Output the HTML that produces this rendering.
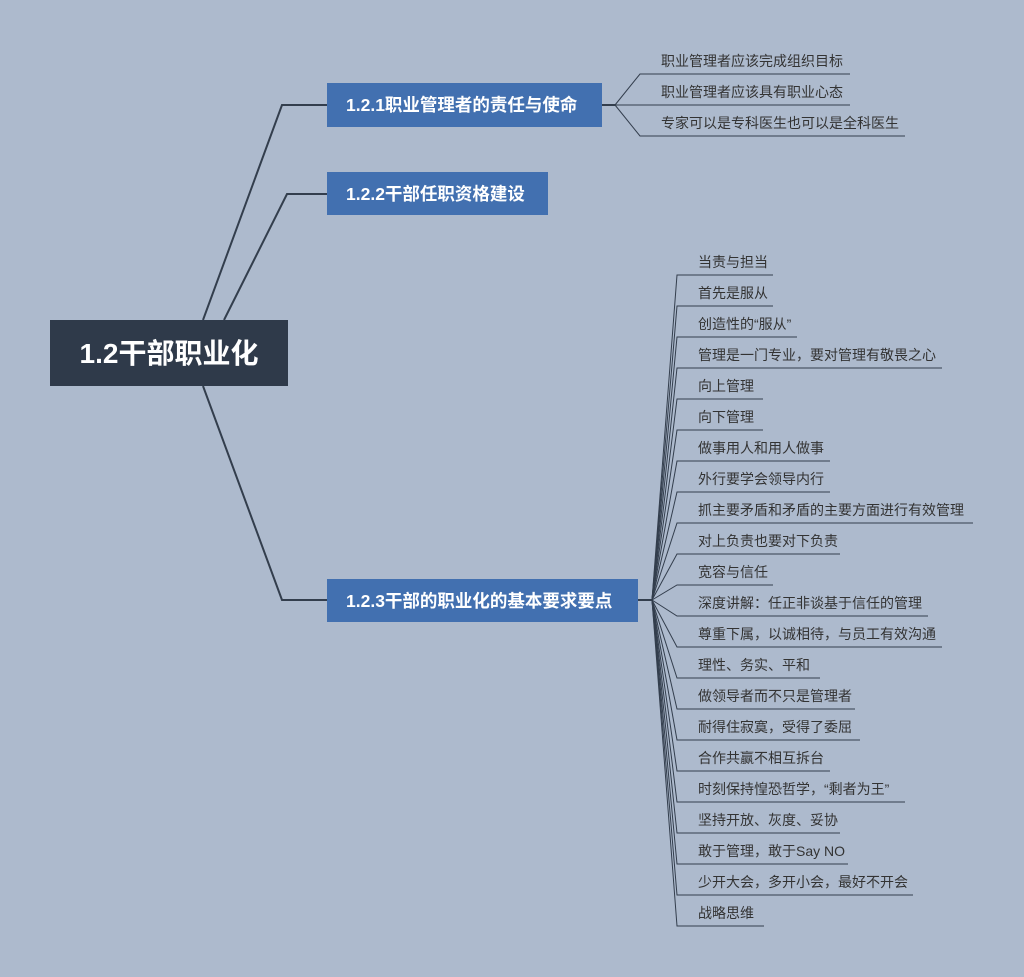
<!DOCTYPE html>
<html><head><meta charset="utf-8"><style>
html,body{margin:0;padding:0;background:#adbacd;}
svg{display:block}
text{font-family:"Liberation Sans","Noto Sans CJK SC",sans-serif;}
</style></head><body>
<svg width="1024" height="977" viewBox="0 0 1024 977" xmlns="http://www.w3.org/2000/svg">
<rect width="1024" height="977" fill="#adbacd"/>
<g stroke="#333e4d" stroke-width="2" fill="none">
<polyline points="203,320 282,105 327,105"/>
<polyline points="224,320 287,194 327,194"/>
<polyline points="203,386 282,600 327,600"/>
<line x1="638" y1="600" x2="652" y2="600"/>
<line x1="602" y1="105" x2="615" y2="105"/>
</g>
<g stroke="#333e4d" stroke-width="1" fill="none">
<path d="M615,105 L640,74 L850,74"/>
<path d="M615,105 L850,105"/>
<path d="M615,105 L640,136 L905,136"/>
</g>
<rect x="50" y="320" width="238" height="66" fill="#2f3a4a"/>
<text x="169" y="363" fill="#fff" font-size="28" font-weight="bold" text-anchor="middle">1.2干部职业化</text>
<rect x="327" y="83" width="275" height="44" fill="#4270b0"/>
<text x="346" y="111" fill="#fff" font-size="17.5" font-weight="bold">1.2.1职业管理者的责任与使命</text>
<rect x="327" y="172" width="221" height="43" fill="#4270b0"/>
<text x="346" y="200" fill="#fff" font-size="17.5" font-weight="bold">1.2.2干部任职资格建设</text>
<rect x="327" y="579" width="311" height="43" fill="#4270b0"/>
<text x="346" y="607" fill="#fff" font-size="17.5" font-weight="bold">1.2.3干部的职业化的基本要求要点</text>
<g fill="#333" font-size="14">
<text x="661" y="66">职业管理者应该完成组织目标</text>
<text x="661" y="97">职业管理者应该具有职业心态</text>
<text x="661" y="128">专家可以是专科医生也可以是全科医生</text>
</g>
<g stroke="#333e4d" stroke-width="1" fill="none">
<path d="M652,600 L677,275 L773,275"/>
<path d="M652,600 L677,306 L773,306"/>
<path d="M652,600 L677,337 L797,337"/>
<path d="M652,600 L677,368 L942,368"/>
<path d="M652,600 L677,399 L763,399"/>
<path d="M652,600 L677,430 L763,430"/>
<path d="M652,600 L677,461 L830,461"/>
<path d="M652,600 L677,492 L830,492"/>
<path d="M652,600 L677,523 L973,523"/>
<path d="M652,600 L677,554 L840,554"/>
<path d="M652,600 L677,585 L773,585"/>
<path d="M652,600 L677,616 L928,616"/>
<path d="M652,600 L677,647 L942,647"/>
<path d="M652,600 L677,678 L820,678"/>
<path d="M652,600 L677,709 L855,709"/>
<path d="M652,600 L677,740 L860,740"/>
<path d="M652,600 L677,771 L830,771"/>
<path d="M652,600 L677,802 L905,802"/>
<path d="M652,600 L677,833 L840,833"/>
<path d="M652,600 L677,864 L848,864"/>
<path d="M652,600 L677,895 L913,895"/>
<path d="M652,600 L677,926 L764,926"/>
</g>
<g fill="#333" font-size="14">
<text x="698" y="267">当责与担当</text>
<text x="698" y="298">首先是服从</text>
<text x="698" y="329">创造性的“服从”</text>
<text x="698" y="360">管理是一门专业，要对管理有敬畏之心</text>
<text x="698" y="391">向上管理</text>
<text x="698" y="422">向下管理</text>
<text x="698" y="453">做事用人和用人做事</text>
<text x="698" y="484">外行要学会领导内行</text>
<text x="698" y="515">抓主要矛盾和矛盾的主要方面进行有效管理</text>
<text x="698" y="546">对上负责也要对下负责</text>
<text x="698" y="577">宽容与信任</text>
<text x="698" y="608">深度讲解：任正非谈基于信任的管理</text>
<text x="698" y="639">尊重下属，以诚相待，与员工有效沟通</text>
<text x="698" y="670">理性、务实、平和</text>
<text x="698" y="701">做领导者而不只是管理者</text>
<text x="698" y="732">耐得住寂寞，受得了委屈</text>
<text x="698" y="763">合作共赢不相互拆台</text>
<text x="698" y="794">时刻保持惶恐哲学，“剩者为王”</text>
<text x="698" y="825">坚持开放、灰度、妥协</text>
<text x="698" y="856">敢于管理，敢于Say NO</text>
<text x="698" y="887">少开大会，多开小会，最好不开会</text>
<text x="698" y="918">战略思维</text>
</g>
</svg>
</body></html>
